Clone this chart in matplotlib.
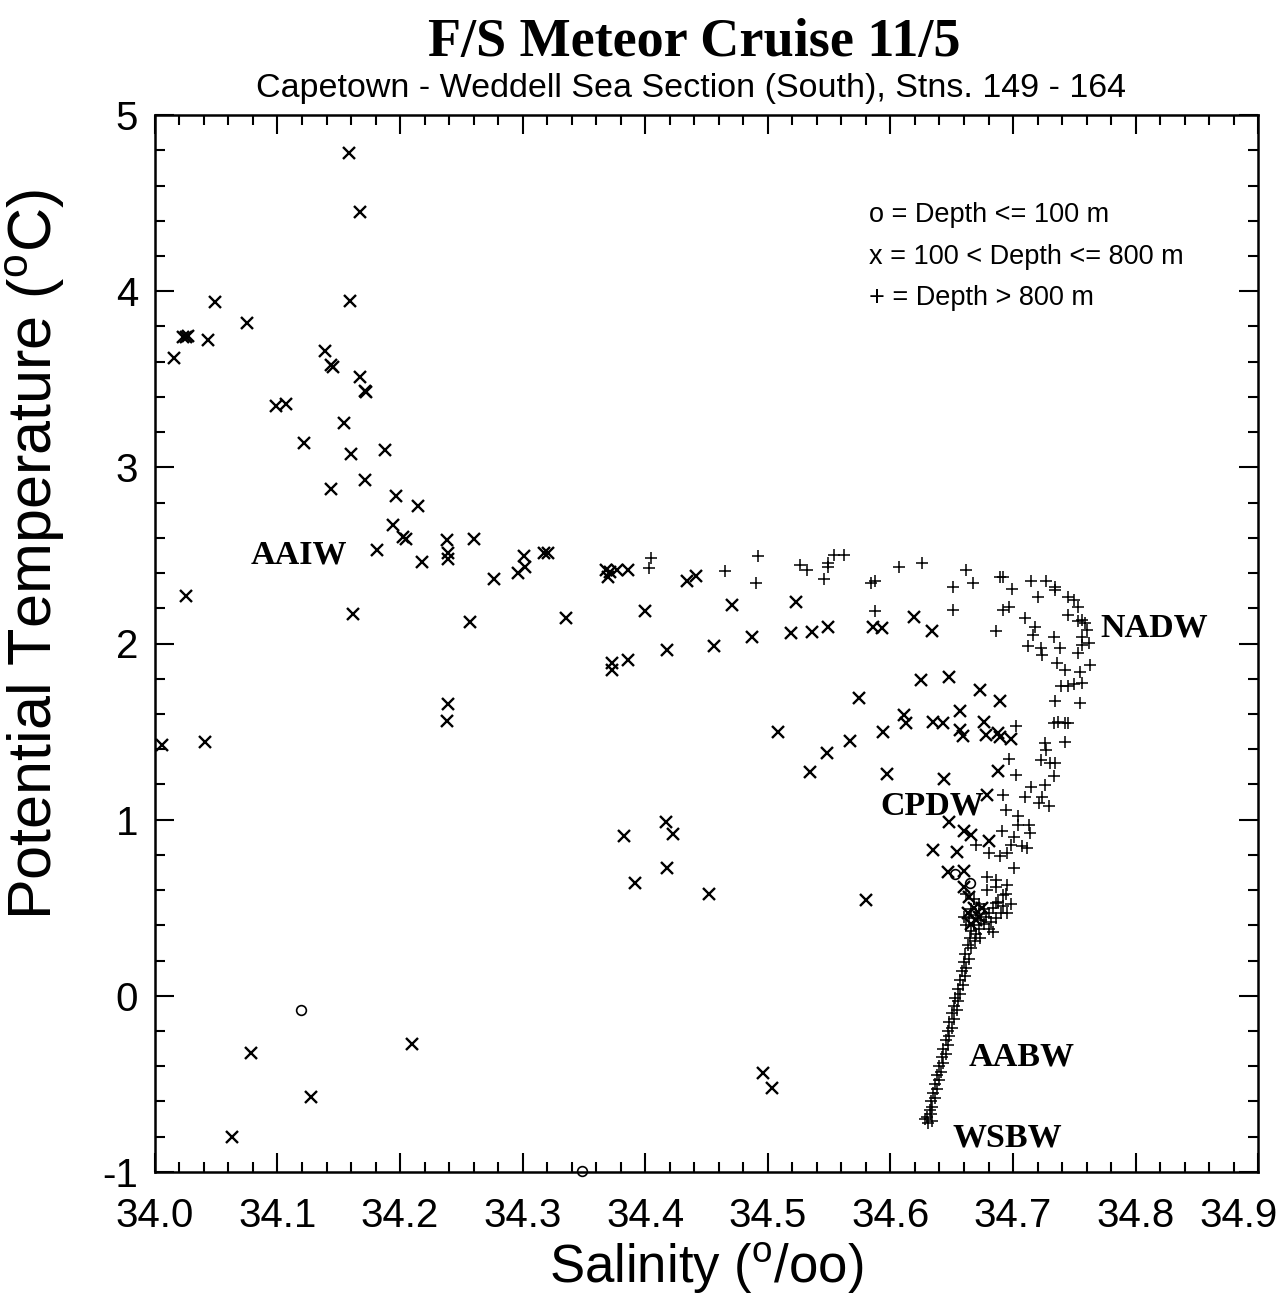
import numpy as np
import matplotlib
matplotlib.use('Agg')
import matplotlib.pyplot as plt
from matplotlib.ticker import MultipleLocator
from matplotlib.transforms import ScaledTranslation

plt.rcParams['font.family'] = ['Liberation Sans', 'DejaVu Sans']
plt.rcParams['mathtext.fontset'] = 'custom'
plt.rcParams['mathtext.rm'] = 'Liberation Sans'
plt.rcParams['mathtext.sf'] = 'Liberation Sans'
plt.rcParams['axes.unicode_minus'] = False

# depth <= 100 m (circles)
sal_shallow = [34.119, 34.348, 34.653, 34.665]
temp_shallow = [-0.079, -0.993, 0.69, 0.64]

# 100 < depth <= 800 m (x)
sal_mid = [34.158, 34.167, 34.159, 34.049, 34.023, 34.025, 34.027, 34.016, 34.043, 34.075,
           34.139, 34.144, 34.145, 34.167, 34.171, 34.172, 34.099, 34.107, 34.154, 34.122,
           34.160, 34.188, 34.171, 34.144, 34.197, 34.215, 34.194, 34.202, 34.205, 34.238,
           34.260, 34.181, 34.218, 34.239, 34.239, 34.277, 34.296, 34.301, 34.302, 34.317,
           34.321, 34.025, 34.162, 34.257, 34.335, 34.006, 34.041, 34.239, 34.238,
           34.078, 34.127, 34.063, 34.210, 34.496, 34.503,
           34.368, 34.371, 34.377, 34.386, 34.370, 34.400, 34.434, 34.441, 34.471, 34.523,
           34.373, 34.373, 34.386, 34.418, 34.456, 34.487, 34.519, 34.536, 34.549, 34.586,
           34.593, 34.619, 34.634, 34.574, 34.625, 34.648, 34.673, 34.689, 34.508, 34.567,
           34.548, 34.534, 34.594, 34.611, 34.613, 34.635, 34.643, 34.657, 34.657, 34.659,
           34.676, 34.678, 34.688, 34.689, 34.698, 34.597, 34.644, 34.688, 34.679, 34.648,
           34.660, 34.666, 34.680, 34.635, 34.654, 34.647, 34.660, 34.383, 34.417, 34.423,
           34.418, 34.392, 34.452, 34.580,
           34.660, 34.664, 34.668, 34.663, 34.670, 34.675, 34.666, 34.672]
temp_mid = [4.784, 4.449, 3.944, 3.939, 3.740, 3.740, 3.746, 3.621, 3.723, 3.820,
            3.661, 3.581, 3.570, 3.513, 3.434, 3.428, 3.348, 3.360, 3.252, 3.138,
            3.076, 3.099, 2.928, 2.877, 2.838, 2.781, 2.673, 2.605, 2.594, 2.588,
            2.594, 2.531, 2.463, 2.514, 2.480, 2.367, 2.401, 2.497, 2.435, 2.514,
            2.514, 2.270, 2.168, 2.123, 2.145, 1.425, 1.441, 1.657, 1.561,
            -0.323, -0.573, -0.800, -0.272, -0.437, -0.522,
            2.418, 2.408, 2.418, 2.418, 2.380, 2.187, 2.352, 2.384, 2.219, 2.238,
            1.888, 1.850, 1.907, 1.964, 1.986, 2.039, 2.062, 2.068, 2.092, 2.096,
            2.087, 2.153, 2.072, 1.689, 1.793, 1.807, 1.737, 1.676, 1.495, 1.449,
            1.377, 1.273, 1.495, 1.595, 1.548, 1.557, 1.548, 1.619, 1.510, 1.476,
            1.557, 1.481, 1.491, 1.472, 1.457, 1.258, 1.230, 1.279, 1.141, 0.989,
            0.933, 0.914, 0.876, 0.829, 0.819, 0.700, 0.706, 0.908, 0.989, 0.919,
            0.725, 0.639, 0.577, 0.545,
            0.62, 0.56, 0.50, 0.47, 0.43, 0.50, 0.41, 0.45]

# depth > 800 m (+)
sal_deep = [34.405, 34.403, 34.465, 34.492, 34.490, 34.526, 34.532, 34.549, 34.549, 34.554,
            34.562, 34.546, 34.587, 34.584, 34.587, 34.607, 34.626, 34.662, 34.651, 34.667,
            34.651, 34.686, 34.689, 34.692, 34.699, 34.692, 34.697, 34.715, 34.727, 34.734,
            34.734, 34.720, 34.710, 34.718, 34.716, 34.712, 34.723, 34.724, 34.733, 34.738,
            34.736, 34.742, 34.745, 34.750, 34.753, 34.745, 34.753, 34.756, 34.759, 34.760,
            34.756, 34.756, 34.762, 34.753, 34.755, 34.763, 34.739, 34.745, 34.750, 34.756,
            34.734, 34.755, 34.733, 34.737, 34.742, 34.745, 34.742, 34.726, 34.727, 34.723,
            34.730, 34.734, 34.733, 34.715, 34.726, 34.724, 34.710, 34.721, 34.729, 34.702,
            34.697, 34.702, 34.692, 34.694, 34.704, 34.713, 34.704, 34.714, 34.691, 34.701,
            34.698, 34.707, 34.711, 34.670, 34.680, 34.689, 34.695, 34.701, 34.679, 34.686,
            34.695, 34.692, 34.686,
            34.662, 34.668, 34.672, 34.676, 34.680, 34.684, 34.688, 34.690, 34.686, 34.682,
            34.678, 34.674, 34.670, 34.666, 34.664, 34.668, 34.672, 34.676, 34.680, 34.684,
            34.670, 34.666, 34.662, 34.660, 34.665, 34.669, 34.673, 34.692, 34.695, 34.679,
            34.686, 34.694, 34.698,
            34.663, 34.666, 34.661, 34.664, 34.660, 34.662, 34.658, 34.661, 34.657, 34.659,
            34.655, 34.657, 34.653, 34.655, 34.652, 34.654, 34.650, 34.652, 34.648, 34.650,
            34.647, 34.648, 34.645, 34.647, 34.643, 34.645, 34.642, 34.643, 34.640, 34.641,
            34.638, 34.640, 34.636, 34.638, 34.635, 34.636, 34.633, 34.634, 34.632, 34.633,
            34.630, 34.628, 34.634, 34.631]
temp_deep = [2.484, 2.427, 2.414, 2.494, 2.342, 2.446, 2.418, 2.437, 2.456, 2.503,
             2.503, 2.365, 2.352, 2.342, 2.187, 2.433, 2.459, 2.418, 2.323, 2.342,
             2.191, 2.073, 2.380, 2.376, 2.308, 2.191, 2.206, 2.352, 2.357, 2.323,
             2.304, 2.266, 2.143, 2.096, 2.049, 1.983, 1.977, 1.935, 2.039, 1.973,
             1.888, 1.850, 2.266, 2.248, 2.210, 2.162, 2.125, 2.134, 2.115, 2.077,
             2.039, 1.992, 2.002, 1.945, 1.841, 1.879, 1.756, 1.759, 1.769, 1.775,
             1.671, 1.661, 1.548, 1.557, 1.548, 1.548, 1.443, 1.434, 1.396, 1.339,
             1.321, 1.321, 1.245, 1.188, 1.198, 1.131, 1.131, 1.094, 1.075, 1.529,
             1.343, 1.254, 1.141, 1.056, 1.018, 0.971, 0.971, 0.923, 0.933, 0.904,
             0.857, 0.848, 0.838, 0.857, 0.810, 0.791, 0.810, 0.725, 0.677, 0.658,
             0.630, 0.573, 0.526,
             0.58, 0.55, 0.52, 0.49, 0.47, 0.50, 0.53, 0.47, 0.44, 0.42,
             0.45, 0.43, 0.46, 0.49, 0.44, 0.40, 0.38, 0.41, 0.38, 0.36,
             0.35, 0.37, 0.40, 0.45, 0.33, 0.31, 0.33, 0.51, 0.47, 0.60,
             0.62, 0.58, 0.52,
             0.29, 0.27, 0.24, 0.21, 0.19, 0.16, 0.14, 0.11, 0.09, 0.06,
             0.04, 0.01, -0.01, -0.03, -0.06, -0.08, -0.10, -0.13, -0.15, -0.18,
             -0.20, -0.23, -0.25, -0.28, -0.30, -0.33, -0.35, -0.38, -0.40, -0.43,
             -0.45, -0.48, -0.50, -0.53, -0.55, -0.58, -0.60, -0.63, -0.65, -0.67,
             -0.69, -0.70, -0.71, -0.72]

# water mass labels
mass_names = ['AAIW', 'NADW', 'CPDW', 'AABW', 'WSBW']
mass_sal = [34.078, 34.771, 34.592, 34.664, 34.651]
mass_temp = [2.50, 2.09, 1.08, -0.35, -0.81]

legend_lines = ['o = Depth <= 100 m', 'x = 100 < Depth <= 800 m', '+ = Depth > 800 m']

sal_ticks = [34.0, 34.1, 34.2, 34.3, 34.4, 34.5, 34.6, 34.7, 34.8, 34.9]

fig = plt.figure(figsize=(12.8, 13.0), dpi=100)
ax = fig.add_axes([0.121, 0.0985, 0.862, 0.813])

ax.plot(sal_mid, temp_mid, 'x', color='black', ms=9, mew=1.7, linestyle='none')
ax.plot(sal_deep, temp_deep, '+', color='black', ms=9, mew=1.1, linestyle='none')
ax.plot(sal_shallow, temp_shallow, 'o', color='black', mfc='none', ms=7, mew=1.2,
        linestyle='none', clip_on=False)

ax.set_xlim(34.0, 34.9)
ax.set_ylim(-1, 5)
ax.set_xticks(sal_ticks)
ax.set_xticklabels(['%.1f' % s for s in sal_ticks])
ax.xaxis.set_minor_locator(MultipleLocator(0.02))
ax.yaxis.set_major_locator(MultipleLocator(1))
ax.yaxis.set_minor_locator(MultipleLocator(0.2))
ax.tick_params(which='both', direction='in', top=True, right=True, width=1.5)
ax.tick_params(which='major', length=14, labelsize=29)
ax.tick_params(axis='x', which='major', pad=18)
ax.tick_params(axis='y', which='major', pad=12)
ax.tick_params(which='minor', length=7)
for sp in ax.spines.values():
    sp.set_linewidth(1.8)

# nudge the 34.9 label inward so it stays on the page
for lbl in ax.get_xticklabels():
    if lbl.get_text() == '34.9':
        lbl.set_transform(lbl.get_transform() + ScaledTranslation(-0.2, 0, fig.dpi_scale_trans))

ax.set_xlabel(r'Salinity ($^\mathsf{o}$/oo)', fontsize=38, labelpad=4)
ax.set_ylabel(r'Potential Temperature ($^\mathsf{o}$C)', fontsize=44)
ax.yaxis.set_label_coords(-0.08, 0.584)

for name, s, t in zip(mass_names, mass_sal, mass_temp):
    ax.text(s, t, name, family='Liberation Serif', fontweight='bold', fontsize=24.5,
            ha='left', va='center')

for i, line in enumerate(legend_lines):
    ax.text(0.647, 0.905 - i * 0.039, line, transform=ax.transAxes, fontsize=19.5,
            ha='left', va='center')

fig.text(0.542, 0.967, 'F/S Meteor Cruise 11/5', family='Liberation Serif',
         fontweight='bold', fontsize=39, ha='center', va='center')
fig.text(0.540, 0.932, 'Capetown - Weddell Sea Section (South), Stns. 149 - 164',
         fontsize=24.5, ha='center', va='center')

fig.savefig('out.png', dpi=100)
